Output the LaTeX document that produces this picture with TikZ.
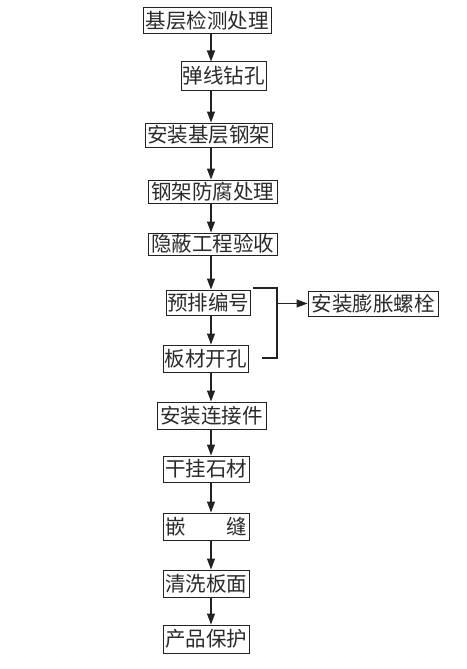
\documentclass[tikz,border=0pt]{standalone}
\usepackage{fontspec}
\newfontfamily\cjk{Noto Sans CJK SC}
\usetikzlibrary{arrows.meta}
\definecolor{ink}{HTML}{222222}
\definecolor{txt}{HTML}{2A2A2A}
\tikzset{
  box/.style={draw=ink, line width=1pt, rectangle, inner sep=0pt, text=txt,
              font=\cjk\fontsize{20.5pt}{22pt}\selectfont},
  arr/.style={draw=ink, line width=1.1pt, -{Triangle[length=11pt,width=8pt]}},
  lin/.style={draw=ink, line width=1.1pt}
}
\begin{document}
\begin{tikzpicture}[x=1pt,y=-1pt]
\useasboundingbox[fill=white] (0,0) rectangle (466,669);
\coordinate (ax) at (211,0);
\node[box, minimum width=128pt, minimum height=26pt] (b1) at (207,21) {基层检测处理};
\node[box, minimum width=85pt, minimum height=28pt] (b2) at (223.5,76) {弹线钻孔};
\node[box, minimum width=127pt, minimum height=24pt] (b3) at (208.5,135) {安装基层钢架};
\node[box, minimum width=129pt, minimum height=23pt] (b4) at (212.5,191.5) {钢架防腐处理};
\node[box, minimum width=129pt, minimum height=22pt] (b5) at (212.5,244) {隐蔽工程验收};
\node[box, minimum width=84pt, minimum height=25pt] (b6) at (208,302.5) {预排编号};
\node[box, minimum width=85pt, minimum height=27pt] (b7) at (205.5,358.5) {板材开孔};
\node[box, minimum width=109pt, minimum height=27pt] (b8) at (211.5,415.5) {安装连接件};
\node[box, minimum width=86pt, minimum height=26pt] (b9) at (206,469) {干挂石材};
\node[box, minimum width=86pt, minimum height=27pt] (b10) at (206,526.5) {\makebox[82pt]{嵌\hfill 缝}};
\node[box, minimum width=86pt, minimum height=27pt] (b11) at (206,583.5) {清洗板面};
\node[box, minimum width=86pt, minimum height=28pt] (b12) at (206,639) {产品保护};
\node[box, minimum width=130pt, minimum height=25pt] (b13) at (373,303.5) {安装膨胀螺栓};
\foreach \a/\b in {b1/b2,b2/b3,b3/b4,b4/b5,b5/b6,b6/b7,b7/b8,b8/b9,b9/b10,b10/b11,b11/b12}
  \draw[arr] (\a.south -| ax) -- (\b.north -| ax);
\coordinate (bt) at (253,288);
\coordinate (br) at (277,288);
\coordinate (bb) at (277,358);
\coordinate (bl) at (262,358);
\draw[lin] (bt) -- (br) -- (bb) -- (bl);
\draw[arr] (b13.west -| br) -- (b13.west);
\end{tikzpicture}
\end{document}
